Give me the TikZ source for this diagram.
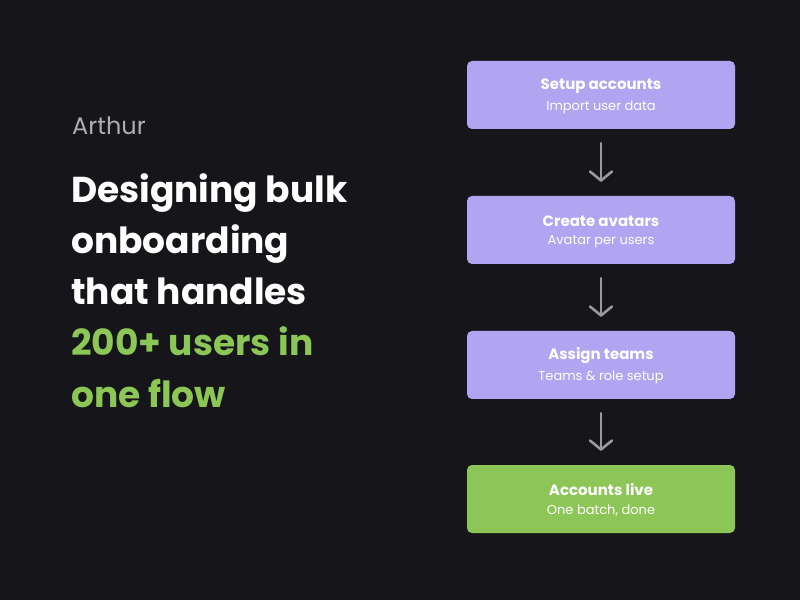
\documentclass[tikz,border=0pt]{standalone}
\usepackage{fontspec}
\setmainfont{Poppins}
\usetikzlibrary{arrows.meta}
\definecolor{bg}{HTML}{16161A}
\definecolor{purp}{HTML}{B1A5F2}
\definecolor{grn}{HTML}{8CC657}
\definecolor{arr}{HTML}{9A9A9E}
\begin{document}
\begin{tikzpicture}[x=1pt,y=1pt,
  box/.style={rounded corners=5pt,minimum width=268pt,minimum height=68pt,inner sep=0pt},
  ttl/.style={font=\fontsize{15}{18}\selectfont\bfseries,text=white},
  sub/.style={font=\fontsize{13}{16}\selectfont,text=white},
  con/.style={arr,line width=2.6pt,line cap=round,-{Straight Barb[length=9pt,width=22pt,line width=2.6pt,round]}},
  head/.style={anchor=base west,font=\fontsize{36}{44}\selectfont\bfseries,inner sep=0pt}]
\fill[bg] (0,0) rectangle (800,600);
\useasboundingbox (0,0) rectangle (800,600);
\node[anchor=base west,inner sep=0pt,text=arr!80!white,font=\fontsize{24}{28}\selectfont] (au) at (72,465) {Arthur};
\node[head,text=white] (h1) at (71,397) {Designing bulk};
\node[head,text=white] (h2) at (71,346) {onboarding};
\node[head,text=white] (h3) at (71,295) {that handles};
\node[head,text=grn] (h4) at (71,244) {200+ users in};
\node[head,text=grn] (h5) at (71,193) {one flow};
\foreach \n/\y/\c/\t/\s in {b1/505/purp/Setup accounts/Import user data,
  b2/370/purp/Create avatars/Avatar per users,
  b3/235/purp/Assign teams/Teams \& role setup,
  b4/101/grn/Accounts live/{One batch, done}}{
  \node[box,fill=\c] (\n) at (601,\y) {};
  \node[ttl] (\n t) at (601,\y+9) {\t};
  \node[sub] (\n s) at (601,\y-12) {\s};
}
\draw[con] ([yshift=-14pt]b1.south) -- ([yshift=14pt]b2.north);
\draw[con] ([yshift=-14pt]b2.south) -- ([yshift=14pt]b3.north);
\draw[con] ([yshift=-14pt]b3.south) -- ([yshift=14pt]b4.north);
\end{tikzpicture}
\end{document}
